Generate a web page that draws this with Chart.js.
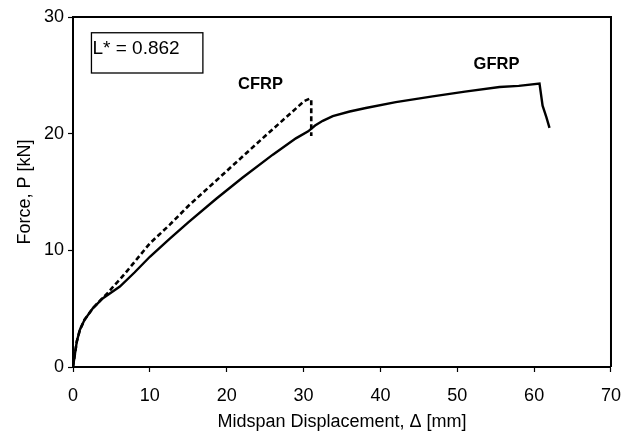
<!DOCTYPE html>
<html>
<head>
<meta charset="utf-8">
<script src="https://cdn.jsdelivr.net/npm/chart.js@4.4.0/dist/chart.umd.min.js"></script>
<style>
html,body{margin:0;padding:0;background:#fff;}
#wrap{width:634px;height:433px;position:relative;}
</style>
</head>
<body>
<div id="wrap"><canvas id="c" width="634" height="433"></canvas></div>
<script>
// Data
const gfrpX = [0, 0.2, 0.5, 0.9, 1.5, 2.6, 3.9, 6.1, 8, 10, 12.6, 15, 18.6, 22, 26, 29, 30.6, 31.5, 32.5, 33.8, 36, 38.1, 42, 46.8, 51, 55.5, 58, 60.7, 61.1, 61.6, 62.0];
const gfrpY = [0, 0.9, 2.2, 3.2, 4.05, 5.05, 5.9, 6.9, 8.1, 9.45, 11.0, 12.4, 14.4, 16.2, 18.2, 19.6, 20.2, 20.7, 21.1, 21.5, 21.9, 22.2, 22.7, 23.2, 23.6, 24.0, 24.1, 24.3, 22.4, 21.4, 20.5];
const cfrpX = [0, 0.2, 0.5, 0.9, 1.5, 2.6, 3.9, 4.6, 5.3, 6.1, 7, 8, 10, 12.6, 15, 20, 25, 30.1, 30.8, 31.0, 31.0];
const cfrpY = [0, 0.9, 2.2, 3.2, 4.05, 5.05, 5.95, 6.4, 6.95, 7.5, 8.2, 9.0, 10.6, 12.2, 13.8, 16.8, 19.8, 22.8, 23.0, 22.9, 19.8];
const xTicks = [0, 10, 20, 30, 40, 50, 60, 70];
const yTicks = [0, 10, 20, 30];
const seriesNames = ["GFRP", "CFRP"];
const noteText = "L* = 0.862";
const xTitle = "Midspan Displacement, \u0394 [mm]";
const yTitle = "Force, P [kN]";

const FONT = "'Liberation Sans', Arial, Helvetica, sans-serif";

function pts(xs, ys){ return xs.map((x,i)=>({x:x, y:ys[i]})); }

const annot = {
  id: 'annot',
  afterDraw(chart){
    const {ctx, chartArea:a, scales:{x, y}} = chart;
    ctx.save();
    // frame
    ctx.strokeStyle = '#000';
    ctx.lineWidth = 2;
    ctx.beginPath();
    ctx.moveTo(a.left, a.top); ctx.lineTo(a.right, a.top); ctx.lineTo(a.right, a.bottom);
    ctx.stroke();
    // note box
    const bx1 = x.getPixelForValue(2.4), bx2 = x.getPixelForValue(16.9);
    const by1 = y.getPixelForValue(28.65), by2 = y.getPixelForValue(25.2);
    ctx.lineWidth = 1.3;
    ctx.strokeRect(bx1, by1, bx2-bx1, by2-by1);
    ctx.fillStyle = '#000';
    ctx.font = '19px ' + FONT;
    ctx.textBaseline = 'middle';
    ctx.textAlign = 'left';
    ctx.fillText(noteText, bx1 + 1, by1 + 16);
    // series labels
    ctx.font = 'bold 16.5px ' + FONT;
    ctx.textAlign = 'center';
    ctx.fillText(seriesNames[1], x.getPixelForValue(24.4), y.getPixelForValue(24.2));
    ctx.fillText(seriesNames[0], x.getPixelForValue(55.1), y.getPixelForValue(25.9));
    ctx.restore();
  }
};

const tickFont = {family: FONT, size: 18};

new Chart(document.getElementById('c'), {
  type: 'scatter',
  data: {
    datasets: [
      {label: seriesNames[0], data: pts(gfrpX, gfrpY), showLine: true, borderColor: '#000', borderWidth: 2.4, pointRadius: 0, tension: 0, fill: false},
      {label: seriesNames[1], data: pts(cfrpX, cfrpY), showLine: true, borderColor: '#000', borderWidth: 2.6, borderDash: [5, 3], pointRadius: 0, tension: 0, fill: false}
    ]
  },
  options: {
    responsive: false,
    animation: false,
    devicePixelRatio: 1,
    layout: {padding: {top: 17, right: 22, left: 0, bottom: 0}},
    plugins: {legend: {display: false}, tooltip: {enabled: false}},
    scales: {
      x: {
        type: 'linear', min: 0, max: 70,
        afterBuildTicks: s => { s.ticks = xTicks.map(v => ({value: v})); },
        afterFit: s => { s.height = 66; },
        grid: {drawOnChartArea: false, color: '#000', tickLength: 5, tickWidth: 1.2},
        border: {display: true, color: '#000', width: 2},
        ticks: {color: '#000', font: tickFont, padding: 13, maxRotation: 0},
        title: {display: true, text: xTitle, color: '#000', font: {family: FONT, size: 18}, padding: {top: 0, bottom: 0}}
      },
      y: {
        type: 'linear', min: 0, max: 30,
        afterBuildTicks: s => { s.ticks = yTicks.map(v => ({value: v})); },
        afterFit: s => { s.width = 73; },
        grid: {drawOnChartArea: false, color: '#000', tickLength: 5, tickWidth: 1.2},
        border: {display: true, color: '#000', width: 2},
        ticks: {color: '#000', font: tickFont, padding: 4},
        title: {display: true, text: yTitle, color: '#000', font: {family: FONT, size: 18}, padding: {top: 14, bottom: 0}}
      }
    }
  },
  plugins: [annot]
});
</script>
</body>
</html>
